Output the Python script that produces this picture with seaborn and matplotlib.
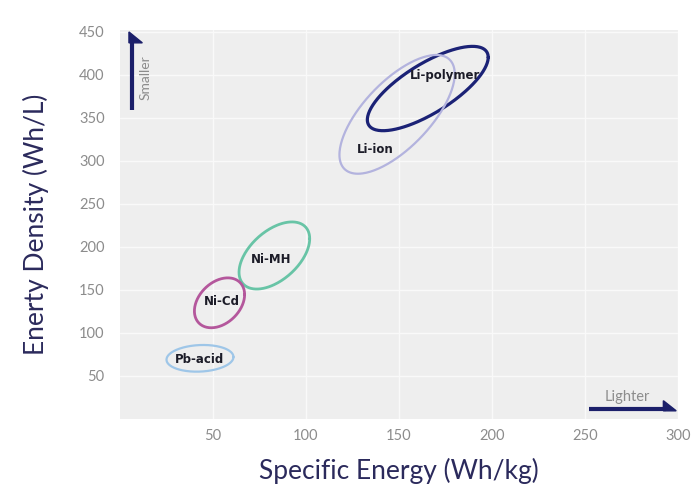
import numpy as np
import pandas as pd
import matplotlib
matplotlib.use("Agg")
import matplotlib.pyplot as plt
from matplotlib.patches import Polygon
import seaborn as sns

# Battery chemistries: ranges of specific energy (Wh/kg) and energy density (Wh/L)
chemistries = ["Li-polymer", "Li-ion", "Ni-MH", "Ni-Cd", "Pb-acid"]
energy_min = [133, 118, 64, 40, 25]
energy_max = [198, 180, 102, 67, 61]
density_min = [335, 285, 151, 106, 55]
density_max = [433, 423, 229, 164, 86]
# how strongly each region leans along the diagonal (0 = upright, 1 = a line)
lean = [0.74, 0.68, 0.50, 0.33, 0.10]

# label anchor points
label_x = [175, 137, 81, 55, 43]
label_y = [399, 313, 185, 136, 69]

x_ticks = [50, 100, 150, 200, 250, 300]
y_ticks = [50, 100, 150, 200, 250, 300, 350, 400, 450]

colors = {
    "Li-polymer": "#1b2276",
    "Li-ion": "#b3b3de",
    "Ni-MH": "#68c4a6",
    "Ni-Cd": "#b4579c",
    "Pb-acid": "#9ec6e8",
}
widths = {"Li-polymer": 2.3, "Li-ion": 1.6, "Ni-MH": 2.0, "Ni-Cd": 2.0, "Pb-acid": 1.6}

sns.set_theme(style="darkgrid")
plt.rcParams["font.family"] = ["Lato", "DejaVu Sans"]

fig = plt.figure(figsize=(6.91, 4.88), dpi=100)
fig.patch.set_facecolor("white")
ax = fig.add_axes([0.1737, 0.1414, 0.8073, 0.7971])
ax.set_facecolor("#eeeeee")

# closed outline for each chemistry region
t = np.linspace(0, 2 * np.pi, 240)
frames = []
for name, x0, x1, y0, y1, k in zip(chemistries, energy_min, energy_max,
                                   density_min, density_max, lean):
    cx, cy = (x0 + x1) / 2, (y0 + y1) / 2
    rx, ry = (x1 - x0) / 2, (y1 - y0) / 2
    d = np.arcsin(k)
    frames.append(pd.DataFrame({
        "chemistry": name,
        "energy": cx + rx * np.cos(t),
        "density": cy + ry * np.sin(t + d),
    }))
outlines = pd.concat(frames, ignore_index=True)

for name in chemistries:
    sub = outlines[outlines["chemistry"] == name]
    sns.lineplot(data=sub, x="energy", y="density", sort=False, estimator=None,
                 color=colors[name], linewidth=widths[name], ax=ax)

for name, lx, ly in zip(chemistries, label_x, label_y):
    ax.text(lx, ly, name, ha="center", va="center", fontsize=8.5, fontweight="bold",
            color="#1c1c28", family=["DejaVu Sans"])

ax.set_xlim(0, 300)
ax.set_ylim(0, 452)
ax.set_xticks(x_ticks)
ax.set_yticks(y_ticks)
ax.grid(True, color="#f9f9f9", linewidth=1.0)
for s in ax.spines.values():
    s.set_visible(False)
ax.tick_params(axis="both", length=0, labelsize=10.5, labelcolor="#8c8c8c")
ax.tick_params(axis="y", pad=11)
ax.tick_params(axis="x", pad=7)

ax.set_xlabel("Specific Energy (Wh/kg)", fontsize=19, color="#2b2a5c", labelpad=11)
ax.set_ylabel("Enerty Density (Wh/L)", fontsize=19, color="#2b2a5c", labelpad=22)

navy = "#1b1f6a"
# "Smaller" arrow pointing up
ax.plot([0.0206, 0.0206], [0.794, 0.97], transform=ax.transAxes, color=navy,
        linewidth=3, solid_capstyle="butt")
ax.add_patch(Polygon([[0.016, 0.995], [0.040, 0.967], [0.016, 0.967]], closed=True,
                     transform=ax.transAxes, facecolor=navy, edgecolor=navy))
ax.text(0.045, 0.877, "Smaller", transform=ax.transAxes, rotation=90, ha="center",
        va="center", fontsize=10, color="#8c8c8c")

# "Lighter" arrow pointing right
ax.plot([0.840, 0.978], [0.026, 0.026], transform=ax.transAxes, color=navy,
        linewidth=3, solid_capstyle="butt")
ax.add_patch(Polygon([[0.974, 0.047], [0.997, 0.021], [0.974, 0.021]], closed=True,
                     transform=ax.transAxes, facecolor=navy, edgecolor=navy))
ax.text(0.910, 0.045, "Lighter", transform=ax.transAxes, ha="center", va="baseline",
        fontsize=10.5, color="#8c8c8c")

fig.savefig("out.png", dpi=100, facecolor="white")
